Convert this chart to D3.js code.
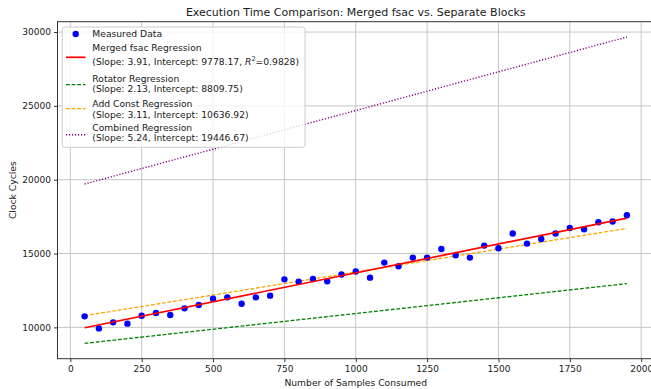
<!DOCTYPE html>
<html>
<head>
<meta charset="utf-8">
<script src="https://cdn.jsdelivr.net/npm/d3@7"></script>
<style>
  body { margin: 0; background: #fff; }
  text { font-family: 'DejaVu Sans', sans-serif; fill: #1a1a1a; }
</style>
</head>
<body>
<div id="chart"></div>
<script>
// Data
const samples = [50, 100, 150, 200, 250, 300, 350, 400, 450, 500, 550, 600, 650, 700, 750, 800, 850, 900, 950, 1000,
  1050, 1100, 1150, 1200, 1250, 1300, 1350, 1400, 1450, 1500, 1550, 1600, 1650, 1700, 1750, 1800, 1850, 1900, 1950]
const cycles = [10746, 9932, 10339, 10251, 10792, 10970, 10834, 11288, 11512, 11944, 12034, 11605, 12034, 12148, 13254,
  13098, 13277, 13119, 13580, 13785, 13369, 14386, 14136, 14726, 14726, 15311, 14884, 14726, 15539, 15356,
  16353, 15675, 15986, 16353, 16733, 16644, 17119, 17167, 17594]

const regNames = ['Merged fsac Regression', 'Rotator Regression', 'Add Const Regression', 'Combined Regression']
const regSlopes = [3.91, 2.13, 3.11, 5.24]
const regIntercepts = [9778.17, 8809.75, 10636.92, 19446.67]
const mergedR2 = 0.9828

const xTicks = [0, 250, 500, 750, 1000, 1250, 1500, 1750, 2000]
const yTicks = [10000, 15000, 20000, 25000, 30000]

function draw() {
  const dataset = samples.map((s, i) => ({ x: s, y: cycles[i] }))
  const lines = regNames.map((name, i) => ({
    name,
    slope: regSlopes[i],
    intercept: regIntercepts[i],
    pts: [samples[0], samples[samples.length - 1]].map(x => ({ x, y: regSlopes[i] * x + regIntercepts[i] }))
  }))
  const styles = [
    { color: 'red', dash: null, width: 1.7 },
    { color: 'green', dash: '3.8,1.8', width: 1.3 },
    { color: 'orange', dash: '3.8,1.8', width: 1.3 },
    { color: 'purple', dash: '1.2,1.8', width: 1.4 }
  ]

  // Dimensions
  let dimensions = {
    width: 651,
    height: 389,
    left: 57.5,
    right: 654,
    top: 21.7,
    bottom: 358.7
  }

  const svg = d3.select('#chart')
    .append('svg')
    .attr('width', dimensions.width)
    .attr('height', dimensions.height)

  // Scales (matplotlib-style 5% padding)
  const xExt = d3.extent(samples)
  const xPad = (xExt[1] - xExt[0]) * 0.05
  const xScale = d3.scaleLinear()
    .domain([xExt[0] - xPad, xExt[1] + xPad])
    .range([dimensions.left, dimensions.right])

  const allY = cycles.concat(lines.flatMap(l => l.pts.map(p => p.y)))
  const yExt = d3.extent(allY)
  const yPad = (yExt[1] - yExt[0]) * 0.05
  const yScale = d3.scaleLinear()
    .domain([yExt[0] - yPad, yExt[1] + yPad])
    .range([dimensions.bottom, dimensions.top])

  // Grid
  svg.append('g')
    .selectAll('line')
    .data(xTicks)
    .join('line')
    .attr('x1', d => xScale(d))
    .attr('x2', d => xScale(d))
    .attr('y1', dimensions.top)
    .attr('y2', dimensions.bottom)
    .attr('stroke', '#c6c6c6')
    .attr('stroke-width', 1)

  svg.append('g')
    .selectAll('line')
    .data(yTicks)
    .join('line')
    .attr('x1', dimensions.left)
    .attr('x2', dimensions.right)
    .attr('y1', d => yScale(d))
    .attr('y2', d => yScale(d))
    .attr('stroke', '#c6c6c6')
    .attr('stroke-width', 1)

  // Regression lines
  const lineGenerator = d3.line()
    .x(d => xScale(d.x))
    .y(d => yScale(d.y))

  lines.forEach((l, i) => {
    if (i === 0) return
    svg.append('path')
      .datum(l.pts)
      .attr('d', lineGenerator)
      .attr('fill', 'none')
      .attr('stroke', styles[i].color)
      .attr('stroke-width', styles[i].width)
      .attr('stroke-dasharray', styles[i].dash)
  })

  // Points
  svg.append('g')
    .selectAll('circle')
    .data(dataset)
    .join('circle')
    .attr('cx', d => xScale(d.x))
    .attr('cy', d => yScale(d.y))
    .attr('r', 3.2)
    .attr('fill', 'blue')

  // merged fit sits on top of the points
  svg.append('path')
    .datum(lines[0].pts)
    .attr('d', lineGenerator)
    .attr('fill', 'none')
    .attr('stroke', styles[0].color)
    .attr('stroke-width', styles[0].width)

  // Axes
  const xAxis = d3.axisBottom(xScale)
    .tickValues(xTicks)
    .tickFormat(d3.format('d'))
    .tickSize(3.5)
    .tickPadding(3)
  const xAxisGroup = svg.append('g')
    .attr('transform', `translate(0,${dimensions.bottom})`)
    .call(xAxis)
  xAxisGroup.select('.domain').remove()
  xAxisGroup.selectAll('text')
    .attr('font-size', 9)
    .attr('font-family', 'DejaVu Sans')
    .style('fill', '#1a1a1a')
  xAxisGroup.selectAll('.tick line').attr('stroke', '#333')

  const yAxis = d3.axisLeft(yScale)
    .tickValues(yTicks)
    .tickFormat(d3.format('d'))
    .tickSize(3.5)
    .tickPadding(3)
  const yAxisGroup = svg.append('g')
    .attr('transform', `translate(${dimensions.left},0)`)
    .call(yAxis)
  yAxisGroup.select('.domain').remove()
  yAxisGroup.selectAll('text')
    .attr('font-size', 9)
    .attr('font-family', 'DejaVu Sans')
    .style('fill', '#1a1a1a')
  yAxisGroup.selectAll('.tick line').attr('stroke', '#333')

  // Spines
  svg.append('rect')
    .attr('x', dimensions.left)
    .attr('y', dimensions.top)
    .attr('width', dimensions.right - dimensions.left)
    .attr('height', dimensions.bottom - dimensions.top)
    .attr('fill', 'none')
    .attr('stroke', '#333')
    .attr('stroke-width', 1)

  // Labels
  svg.append('text')
    .attr('x', (dimensions.left + dimensions.right) / 2)
    .attr('y', 16)
    .attr('text-anchor', 'middle')
    .attr('font-size', 11)
    .text('Execution Time Comparison: Merged fsac vs. Separate Blocks')

  svg.append('text')
    .attr('x', (dimensions.left + dimensions.right) / 2)
    .attr('y', 385.5)
    .attr('text-anchor', 'middle')
    .attr('font-size', 9.2)
    .text('Number of Samples Consumed')

  svg.append('text')
    .attr('transform', `translate(15.5,${(dimensions.top + dimensions.bottom) / 2}) rotate(-90)`)
    .attr('text-anchor', 'middle')
    .attr('font-size', 9.2)
    .text('Clock Cycles')

  // Legend
  const legend = svg.append('g')
  legend.append('rect')
    .attr('x', 62.3)
    .attr('y', 27)
    .attr('width', 242.7)
    .attr('height', 120.3)
    .attr('rx', 2.5)
    .attr('fill', 'white')
    .attr('fill-opacity', 0.8)
    .attr('stroke', '#cccccc')
    .attr('stroke-width', 1)

  legend.append('circle')
    .attr('cx', 75.7)
    .attr('cy', 34)
    .attr('r', 3.2)
    .attr('fill', 'blue')

  const textX = 92.3
  const addText = (y, txt) => legend.append('text')
    .attr('x', textX)
    .attr('y', y)
    .attr('font-size', 9.2)
    .text(txt)

  addText(37.3, 'Measured Data')

  const handleY = [57.3, 84.7, 108.7, 134.7]
  const titleY = [51.3, 82, 107, 131.3]
  const detailY = [64.6, 92.3, 118, 141.3]

  lines.forEach((l, i) => {
    legend.append('line')
      .attr('x1', 66)
      .attr('x2', 85.5)
      .attr('y1', handleY[i])
      .attr('y2', handleY[i])
      .attr('stroke', styles[i].color)
      .attr('stroke-width', styles[i].width)
      .attr('stroke-dasharray', styles[i].dash)

    addText(titleY[i], l.name)

    if (i === 0) {
      const t = addText(detailY[i], `(Slope: ${l.slope.toFixed(2)}, Intercept: ${l.intercept.toFixed(2)}, `)
      t.append('tspan').attr('font-style', 'italic').text('R')
      t.append('tspan').attr('font-size', 6.5).attr('dy', -3.5).text('2')
      t.append('tspan').attr('dy', 3.5).text(`=${mergedR2.toFixed(4)})`)
    } else {
      addText(detailY[i], `(Slope: ${l.slope.toFixed(2)}, Intercept: ${l.intercept.toFixed(2)})`)
    }
  })
}

draw()
</script>
</body>
</html>
